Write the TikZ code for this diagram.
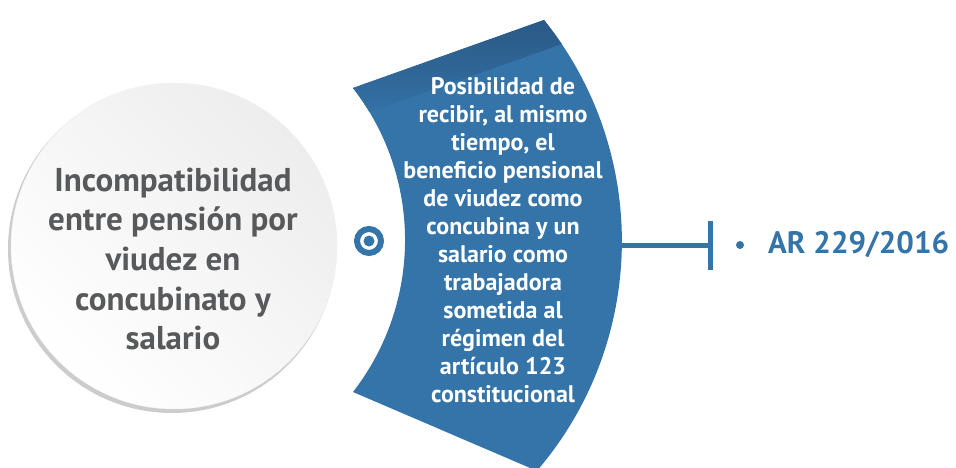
\documentclass[tikz,border=0pt]{standalone}
\usepackage{fontspec}
\setmainfont{PT Sans}
\usetikzlibrary{arrows.meta}
\definecolor{azul}{HTML}{3574A9}
\definecolor{azuloscuro}{HTML}{28547F}
\definecolor{grisTexto}{HTML}{58595B}

\begin{document}
\begin{tikzpicture}[x=1pt,y=1pt,
  tema/.style={circle,minimum size=326pt,inner sep=0pt,draw=gray!12,
    shade,top color=gray!14,bottom color=white,shading angle=-45},
  temaTexto/.style={align=center,text=grisTexto,
    font=\fontsize{33}{39.6}\selectfont\bfseries},
  detalle/.style={align=center,text=white,
    font=\fontsize{24}{28}\selectfont\bfseries},
  referencia/.style={text=azul,inner sep=0pt,
    font=\fontsize{31}{36}\selectfont\bfseries},
  conector/.style={draw=azul,line width=5pt}]
\useasboundingbox (0,0) rectangle (956,467);

\fill[gray!40] (172,218) circle[radius=164];
\node[tema] (tema) at (174,221) {};
\node[temaTexto] (temaTxt) at (173,208)
  {Incompatibilidad\\entre pensión por\\viudez en\\concubinato y\\salario};

\coordinate (bTL) at (353,379);
\coordinate (bTR) at (544,447);
\coordinate (bBL) at (353,75);
\begin{scope}
  \clip (bTL) -- (bTR) arc[start angle=38.8,end angle=-40.6,radius=353]
    -- (bBL) arc[start angle=-37.8,end angle=37.8,radius=248] -- cycle;
  \fill[azul] (340,-10) rectangle (640,480);
  \begin{scope}[shift={(bTL)},rotate=19.4]
    \shade[top color=azuloscuro,bottom color=azul] (-30,-28) rectangle (240,10);
  \end{scope}
\end{scope}
\node[detalle] (detalle) at (503,226.5)
  {Posibilidad de\\recibir, al mismo\\tiempo, el\\beneficio pensional\\de viudez como\\concubina y un\\salario como\\trabajadora\\sometida al\\régimen del\\artículo 123\\constitucional};

\node[circle,draw=azul,line width=6pt,minimum size=24pt,inner sep=0pt] (icono) at (369,226) {};
\fill[azul] (icono.center) circle[radius=5.5];

\coordinate (bR) at (621,221.5);
\coordinate (barra) at (713,221.5);
\draw[conector,-{Bar[width=49pt]}] (bR) -- (barra);

\node[circle,fill=azul,minimum size=8pt,inner sep=0pt] (vineta) at (740,222) {};
\node[referencia,anchor=base west] (acuerdo) at (768,214) {AR 229/2016};
\end{tikzpicture}
\end{document}
